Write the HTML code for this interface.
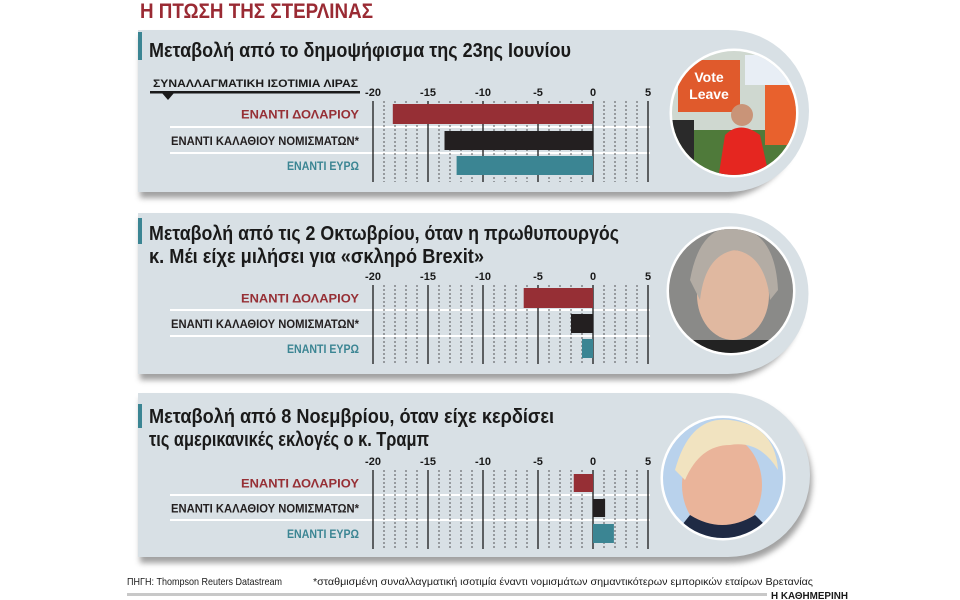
<!DOCTYPE html>
<html><head><meta charset="utf-8"><style>
html,body{margin:0;padding:0;background:#fff;}
svg{display:block;}
text{font-family:"Liberation Sans Narrow","Liberation Sans",sans-serif;}
</style></head><body>
<svg width="960" height="600" viewBox="0 0 960 600" xmlns="http://www.w3.org/2000/svg">
<defs>
<filter id="sh" x="-5%" y="-10%" width="115%" height="130%"><feGaussianBlur stdDeviation="3"/></filter>
<clipPath id="c1"><circle cx="734" cy="113" r="62"/></clipPath>
<clipPath id="c2"><circle cx="731" cy="291" r="62"/></clipPath>
<clipPath id="c3"><circle cx="723" cy="478" r="60"/></clipPath>
</defs>
<text x="140" y="18" font-size="21" font-weight="bold" fill="#9a2a33" textLength="233" lengthAdjust="spacingAndGlyphs">Η ΠΤΩΣΗ ΤΗΣ ΣΤΕΡΛΙΝΑΣ</text>

<!-- panels -->
<g>
<path d="M140 36 H730 A82 82 0 0 1 730 198 H140 Z" fill="#555" opacity="0.55" filter="url(#sh)"/>
<path d="M138 30 H728 A81 81 0 0 1 728 192 H138 Z" fill="#d8e0e5"/>
<path d="M140 219 H730 A81 81 0 0 1 730 380 H140 Z" fill="#555" opacity="0.55" filter="url(#sh)"/>
<path d="M138 213 H728 A80.5 80.5 0 0 1 728 374 H138 Z" fill="#d8e0e5"/>
<path d="M140 399 H730 A82 82 0 0 1 730 563 H140 Z" fill="#555" opacity="0.55" filter="url(#sh)"/>
<path d="M138 393 H728 A82 82 0 0 1 728 557 H138 Z" fill="#d8e0e5"/>
<rect x="138" y="32" width="4" height="28" fill="#3b8593"/>
<rect x="138" y="218" width="4" height="26" fill="#3b8593"/>
<rect x="138" y="404" width="4" height="24" fill="#3b8593"/>
</g>

<!-- titles -->
<g font-size="20" fill="#1a1a1a" font-weight="bold">
<text x="149" y="57" textLength="422" lengthAdjust="spacingAndGlyphs">Μεταβολή από το δημοψήφισμα της 23ης Ιουνίου</text>
<text x="149" y="240" textLength="470" lengthAdjust="spacingAndGlyphs">Μεταβολή από τις 2 Οκτωβρίου, όταν η πρωθυπουργός</text>
<text x="149" y="263" textLength="335" lengthAdjust="spacingAndGlyphs">κ. Μέι είχε μιλήσει για «σκληρό Brexit»</text>
<text x="149" y="423" textLength="405" lengthAdjust="spacingAndGlyphs">Μεταβολή από 8 Νοεμβρίου, όταν είχε κερδίσει</text>
<text x="149" y="446" textLength="280" lengthAdjust="spacingAndGlyphs">τις αμερικανικές εκλογές ο κ. Τραμπ</text>
</g>
<text x="153" y="87" font-size="11" font-weight="bold" fill="#1a1a1a" textLength="205" lengthAdjust="spacingAndGlyphs">ΣΥΝΑΛΛΑΓΜΑΤΙΚΗ ΙΣΟΤΙΜΙΑ ΛΙΡΑΣ</text>
<rect x="150" y="91" width="210" height="2.5" fill="#1a1a1a"/>
<path d="M162 93 L174 93 L168 100 Z" fill="#1a1a1a"/>

<!-- chart groups -->
<g id="axes" stroke-width="1">
</g>
<script>
(function(){
var ns="http://www.w3.org/2000/svg",svg=document.querySelector('svg');
function el(n,a,t){var e=document.createElementNS(ns,n);for(var k in a)e.setAttribute(k,a[k]);if(t)e.textContent=t;svg.appendChild(e);return e;}
function X(v){return 593+v*11;}
var P=[
 {tick:96,l0:101,l1:182,sep:[127,153],bars:[[104,124,-18.2],[131,150,-13.5],[156,175,-12.4]]},
 {tick:280,l0:285,l1:364,sep:[310,336],bars:[[288,308,-6.3],[314,333,-2.0],[339,358,-1.0]]},
 {tick:465,l0:470,l1:549,sep:[495,520],bars:[[474,492,-1.75],[499,517,1.1],[524,543,1.9]]}
];
var cols=["#962f35","#231f20","#3b8593"];
var labs=["ΕΝΑΝΤΙ ΔΟΛΑΡΙΟΥ","ΕΝΑΝΤΙ ΚΑΛΑΘΙΟΥ ΝΟΜΙΣΜΑΤΩΝ*","ΕΝΑΝΤΙ ΕΥΡΩ"];
var lw=[118,188,72];
P.forEach(function(p){
 p.sep.forEach(function(y){el('line',{x1:170,x2:650,y1:y,y2:y,stroke:'#fff','stroke-width':2});});
 for(var v=-20;v<=5;v++){
  var x=X(v);
  if(v%5==0){el('line',{x1:x,x2:x,y1:p.l0,y2:p.l1,stroke:'#1a1a1a','stroke-width':1.3});
   el('text',{x:x,y:p.tick,'font-size':11,'font-weight':'bold','text-anchor':'middle',fill:'#1a1a1a'},String(v));}
  else el('line',{x1:x,x2:x,y1:p.l0,y2:p.l1,stroke:'#333','stroke-width':0.8,'stroke-dasharray':'2,2'});
 }
 p.bars.forEach(function(b,i){
  var x0=X(Math.min(0,b[2])),x1=X(Math.max(0,b[2]));
  el('rect',{x:x0,y:b[0],width:x1-x0,height:b[1]-b[0],fill:cols[i]});
  el('text',{x:359-lw[i],y:(b[0]+b[1])/2+4.5,'font-size':12,'font-weight':'bold',fill:cols[i],textLength:lw[i],lengthAdjust:'spacingAndGlyphs'},labs[i]);
 });
});
})();
</script>

<!-- photos -->
<g>
<circle cx="734" cy="113" r="64.5" fill="#fff"/>
<g clip-path="url(#c1)">
<rect x="670" y="50" width="130" height="130" fill="#cfd8d0"/>
<rect x="670" y="130" width="130" height="50" fill="#4f7a3a"/>
<rect x="678" y="60" width="62" height="52" fill="#e05a2c"/>
<text x="709" y="82" font-size="14" font-weight="bold" fill="#fff" text-anchor="middle">Vote</text>
<text x="709" y="99" font-size="14" font-weight="bold" fill="#fff" text-anchor="middle">Leave</text>
<rect x="745" y="55" width="50" height="30" fill="#e8eef5"/>
<rect x="765" y="85" width="35" height="60" fill="#e8612d"/>
<path d="M718 180 L725 135 Q740 120 760 135 L770 180 Z" fill="#e52620"/>
<circle cx="742" cy="115" r="11" fill="#c99478"/>
<rect x="672" y="120" width="22" height="50" fill="#2a2a2a"/>
</g>
<circle cx="731" cy="291" r="64.5" fill="#fff"/>
<g clip-path="url(#c2)">
<rect x="665" y="225" width="135" height="135" fill="#8a8a88"/>
<ellipse cx="733" cy="295" rx="36" ry="45" fill="#e0b8a0"/>
<path d="M690 280 Q700 225 735 228 Q775 230 778 290 L770 300 Q765 255 735 250 Q705 255 700 300 Z" fill="#b3aca4"/>
<rect x="665" y="340" width="135" height="20" fill="#222"/>
</g>
<circle cx="723" cy="478" r="62.5" fill="#fff"/>
<g clip-path="url(#c3)">
<rect x="660" y="415" width="130" height="130" fill="#b9d2ec"/>
<ellipse cx="722" cy="485" rx="40" ry="50" fill="#eab49a"/>
<path d="M675 470 Q690 415 730 420 Q775 425 778 470 Q760 440 730 445 Q700 445 685 480 Z" fill="#f1e3c0"/>
<path d="M670 540 L690 515 Q722 535 755 515 L780 540 Z" fill="#1f2a44"/>
</g>
</g>

<!-- footer -->
<text x="127" y="585" font-size="10.5" fill="#1a1a1a" textLength="155" lengthAdjust="spacingAndGlyphs">ΠΗΓΗ: Thompson Reuters Datastream</text>
<text x="313" y="585" font-size="10.5" fill="#1a1a1a" textLength="500" lengthAdjust="spacingAndGlyphs">*σταθμισμένη συναλλαγματική ισοτιμία έναντι νομισμάτων σημαντικότερων εμπορικών εταίρων Βρετανίας</text>
<rect x="127" y="593" width="640" height="3" fill="#c8c8c8"/>
<text x="848" y="599" font-size="10.5" font-weight="bold" fill="#1a1a1a" text-anchor="end" textLength="77" lengthAdjust="spacingAndGlyphs">Η ΚΑΘΗΜΕΡΙΝΗ</text>
</svg>
</body></html>
